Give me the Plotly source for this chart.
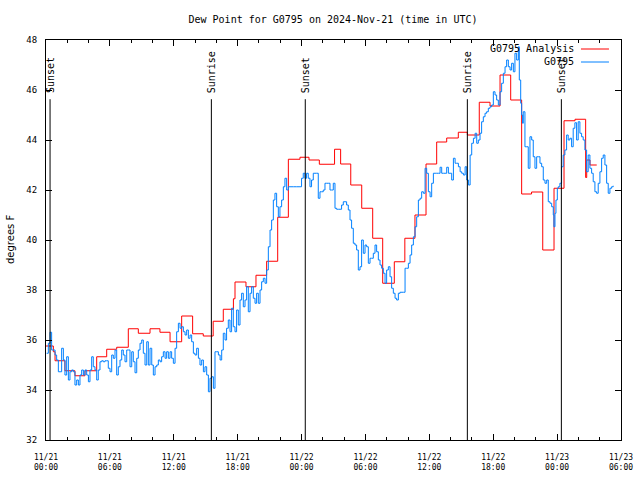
import plotly.graph_objects as go
import pandas as pd

BASE = pd.Timestamp("2024-11-21 00:00")

# ---- Analysis (red step line): step start (hours after 11/21 00:00 UTC), value (deg F)
analysis_hours = [0.0, 0.69, 0.85, 1.78, 2.72, 3.66, 4.76, 5.7, 6.64, 7.73, 8.67, 9.77, 10.7, 11.65,
                  12.74, 13.77, 14.77, 15.7, 16.65, 17.6, 17.75, 18.78, 19.72, 20.72, 21.76, 22.76,
                  23.85, 24.7, 25.67, 27.1, 27.67, 28.62, 29.65, 30.68, 31.62, 32.71, 33.7, 34.65,
                  35.69, 36.69, 37.63, 38.72, 39.57, 40.69, 41.7, 42.64, 43.64, 44.67, 45.6, 46.65,
                  47.71, 48.65, 49.68, 50.68, 50.78, 51.09, 51.72]
analysis_values = [35.76, 35.53, 35.17, 34.77, 34.57, 34.77, 35.33, 35.63, 35.71, 36.45, 36.27, 36.45,
                   36.31, 35.93, 36.96, 36.25, 36.16, 36.75, 37.23, 37.65, 38.32, 38.13, 38.59, 39.15,
                   40.91, 43.23, 43.31, 43.2, 43.03, 43.63, 43.04, 42.2, 41.27, 40.07, 38.27, 39.13,
                   40.07, 41.0, 43.04, 43.92, 44.08, 44.31, 44.2, 45.51, 45.36, 46.6, 45.6, 41.84,
                   41.92, 39.6, 42.07, 44.77, 44.83, 42.5, 43.2, 43.0, 43.0]

# ---- Station observations (blue)
obs_hours = [0.06, 0.22, 0.38, 0.53, 0.69, 0.85, 1.0, 1.16, 1.32, 1.47, 1.63, 1.78, 1.94, 2.1, 2.25,
             2.41, 2.57, 2.72, 2.88, 3.04, 3.19, 3.35, 3.51, 3.66, 3.82, 3.98, 4.13, 4.29, 4.44, 4.6,
             4.76, 4.91, 5.07, 5.23, 5.38, 5.54, 5.7, 5.85, 6.01, 6.17, 6.32, 6.48, 6.64, 6.79, 6.95,
             7.11, 7.26, 7.42, 7.58, 7.73, 7.89, 8.05, 8.2, 8.36, 8.52, 8.67, 8.83, 8.99, 9.14, 9.3,
             9.46, 9.61, 9.77, 9.93, 10.08, 10.24, 10.4, 10.55, 10.71, 10.86, 11.02, 11.18, 11.33,
             11.49, 11.65, 11.8, 11.96, 12.12, 12.27, 12.43, 12.59, 12.74, 12.9, 13.06, 13.21, 13.37,
             13.53, 13.68, 13.84, 13.99, 14.15, 14.31, 14.46, 14.62, 14.78, 14.93, 15.09, 15.25,
             15.4, 15.56, 15.72, 15.87, 16.03, 16.19, 16.35, 16.5,
             16.65, 16.81, 16.96, 17.12, 17.28, 17.43, 17.59, 17.75, 17.9, 18.06, 18.22, 18.37,
             18.53, 18.69, 18.84, 19.0, 19.16, 19.31, 19.47, 19.63, 19.78, 19.94, 20.1, 20.25,
             20.41, 20.57, 20.72, 20.88, 21.04, 21.19, 21.35, 21.5, 21.66, 21.82, 21.97, 22.13,
             22.29, 22.44, 22.6, 22.76, 22.91, 23.23, 23.54, 23.85, 24.0, 24.16, 24.32, 24.47,
             24.63, 24.79, 24.94, 25.1, 25.26, 25.41, 25.57,
             25.73, 25.88, 26.04, 26.2, 26.35, 26.51, 26.67, 26.82, 26.98, 27.14, 27.29, 27.45,
             27.61, 27.76, 27.92, 28.08, 28.23, 28.39, 28.55, 28.7, 28.86, 29.02, 29.17, 29.33,
             29.49, 29.64, 29.8, 29.96, 30.11, 30.27, 30.43, 30.58, 30.74, 30.9, 31.05, 31.21,
             31.37, 31.52, 31.68, 31.84, 31.99, 32.15, 32.31, 32.46, 32.62, 32.78, 32.93, 33.09,
             33.25, 33.56, 33.72, 33.87, 34.03, 34.19, 34.34, 34.5, 34.66, 34.81, 34.97, 35.13,
             35.28, 35.44, 35.6, 35.75, 35.91, 36.07, 36.22, 36.38, 36.54, 36.69, 36.85, 37.01,
             37.16, 37.32, 37.48, 37.63, 37.79, 37.95, 38.1, 38.26, 38.42, 38.57, 38.73, 38.89,
             39.04, 39.2, 39.36, 39.51, 39.67, 39.83, 39.98, 40.14, 40.3, 40.45,
             40.6, 40.76, 40.91, 41.07, 41.23, 41.38, 41.54, 41.7, 41.85, 42.01, 42.17, 42.32,
             42.48, 42.64, 42.79, 42.95, 43.11, 43.26, 43.42, 43.58, 43.73, 43.89, 44.04, 44.2,
             44.36, 44.45, 44.58, 44.67, 44.76, 44.82, 44.98, 45.14, 45.29, 45.45, 45.61, 45.76,
             45.92, 46.08, 46.23, 46.39, 46.55, 46.7, 46.86, 47.02, 47.17, 47.33, 47.49, 47.64,
             47.7, 47.8, 47.89, 48.02, 48.11, 48.26, 48.42, 48.57, 48.73, 48.89, 49.04, 49.2,
             49.36, 49.51, 49.67, 49.83, 49.98, 50.14, 50.3, 50.45, 50.61, 50.77, 50.92, 51.08,
             51.24, 51.39, 51.55, 51.71, 51.86, 52.02, 52.18, 52.33, 52.49, 52.65, 52.8, 52.96,
             53.12, 53.27]
obs_values = [35.47, 35.87, 36.31, 35.6, 35.6, 35.4, 35.2, 34.73, 34.73, 35.67, 35.2, 34.6, 35.33,
              34.4, 34.73, 34.8, 34.73, 34.2, 34.4, 34.2, 34.6, 34.8, 34.6, 34.8, 34.6, 34.33, 34.8,
              35.33, 34.93, 34.8, 34.4, 34.8, 35.13, 35.17, 35.13, 35.17, 35.17, 34.87, 34.73, 35.4,
              35.27, 35.6, 34.6, 34.93, 35.2, 35.6, 35.4, 35.13, 35.6, 35.6, 34.93, 35.53, 35.13,
              34.69, 35.27, 35.6, 35.87, 36.0, 35.47, 35.0, 35.93, 35.0, 35.67, 35.0, 34.6, 34.93,
              35.0, 35.2, 35.13, 35.33, 35.53, 35.27, 35.53, 35.27, 35.53, 35.27, 35.07, 35.67,
              36.33, 36.67, 36.47, 36.53, 36.33, 36.2, 36.4, 36.07, 36.2, 35.93, 35.47, 35.4, 35.67,
              35.27, 35.0, 35.2, 34.73, 34.93, 34.6, 33.93, 34.47, 34.53, 34.07, 35.53, 35.53, 35.4,
              35.2, 35.6,
              36.27, 36.0, 36.47, 36.8, 36.33, 37.27, 36.53, 36.33, 37.2, 36.6, 37.6, 37.87, 37.33,
              37.6, 38.13, 37.13, 37.87, 38.13, 37.67, 37.47, 37.87, 37.47, 38.0, 38.33, 38.47,
              38.27, 38.8, 39.73, 40.4, 40.8, 41.6, 41.87, 41.33, 40.93, 41.33, 41.6, 42.13, 42.47,
              42.0, 42.13, 42.13, 42.13, 42.13, 42.13, 42.47, 42.67, 42.47, 42.67, 42.47, 42.13,
              42.4, 42.67, 42.67, 42.67, 41.67,
              41.93, 41.93, 42.0, 42.27, 42.27, 42.27, 42.0, 42.0, 42.27, 41.27, 41.23, 41.23, 41.23,
              41.4, 41.53, 41.53, 41.4, 41.2, 40.8, 40.47, 39.87, 39.8, 39.6, 38.8, 38.93, 40.0,
              39.47, 39.8, 39.73, 39.07, 39.27, 39.27, 39.47, 39.8, 39.53, 39.2, 39.0, 38.87, 38.67,
              38.27, 38.8, 38.93, 38.53, 38.07, 37.87, 37.67, 37.6, 37.87, 37.91, 37.91, 38.87,
              38.87, 39.07, 39.4, 39.8, 40.13, 40.53, 40.93, 41.6, 41.67, 41.93, 41.87, 42.87, 42.67,
              41.93, 41.73, 42.27, 42.67, 42.67, 42.67, 42.67, 42.91, 42.67, 42.67, 42.67, 42.91,
              42.67, 42.67, 42.4, 43.27, 43.07, 43.07, 42.93, 42.73, 42.67, 42.6, 42.93, 42.4, 42.2,
              43.4, 43.87, 44.07, 44.27, 43.87,
              44.0, 44.27, 44.73, 44.93, 45.07, 45.13, 45.27, 45.33, 45.4, 45.93, 45.8, 45.6, 45.4,
              45.93, 46.27, 46.67, 46.93, 47.2, 46.93, 46.8, 47.07, 46.73, 47.47, 47.2, 47.73, 46.4,
              45.47, 45.0, 44.67, 45.13, 43.73, 43.73, 42.87, 44.13, 44.0, 43.33, 42.87, 43.33,
              43.33, 43.07, 42.93, 42.4, 42.27, 42.4, 41.53, 41.47, 41.33, 41.0, 40.53, 41.07, 41.6,
              42.07, 42.13, 42.27, 42.93, 43.4, 43.6, 44.2, 44.0, 44.07, 43.73, 44.47, 44.69, 44.0,
              44.73, 44.27, 44.13, 44.0, 43.6, 42.73, 43.4, 42.87, 42.67, 42.33, 41.93, 41.87,
              42.27, 42.73, 43.27, 43.4, 43.0, 42.27, 41.87, 42.07, 42.13, 42.17]

# ---- Sun events
event_hours = [0.38, 15.53, 24.35, 39.57, 48.4]
event_labels = ["Sunset", "Sunrise", "Sunset", "Sunrise", "Sunset"]

# ---- Axes
x_tick_hours = [0, 6, 12, 18, 24, 30, 36, 42, 48, 54]
y_ticks = [32, 34, 36, 38, 40, 42, 44, 46, 48]
series_names = ["G0795 Analysis", "G0795"]
series_colors = ["#ff0000", "#0080ff"]
title_text = "Dew Point for G0795 on 2024-Nov-21 (time in UTC)"
y_title = "degrees F"


def to_time(hours):
    return [BASE + pd.Timedelta(hours=h) for h in hours]


MONO = "DejaVu Sans Mono"

fig = go.Figure()
fig.add_trace(go.Scatter(x=to_time(analysis_hours), y=analysis_values, mode="lines",
                         line=dict(color=series_colors[0], width=1, shape="hv"),
                         name=series_names[0], showlegend=False, hoverinfo="skip"))
fig.add_trace(go.Scatter(x=to_time(obs_hours), y=obs_values, mode="lines",
                         line=dict(color=series_colors[1], width=1, shape="hv"),
                         name=series_names[1], showlegend=False, hoverinfo="skip"))

for h, lab in zip(event_hours, event_labels):
    t = BASE + pd.Timedelta(hours=h)
    fig.add_shape(type="line", xref="x", yref="paper", x0=t, x1=t, y0=0, y1=0.852,
                  line=dict(color="black", width=1))
    fig.add_annotation(x=t, y=0.8625, xref="x", yref="paper", text=lab, textangle=-90,
                       showarrow=False, xanchor="center", yanchor="bottom", xshift=1,
                       font=dict(family=MONO, size=10, color="black"))

# manual legend (text right-aligned, sample to the right)
for i, (nm, col) in enumerate(zip(series_names, series_colors)):
    yy = 0.9775 - i * 0.0325
    fig.add_annotation(x=0.921, y=yy, xref="paper", yref="paper", text=nm, showarrow=False,
                       xanchor="right", yanchor="middle", font=dict(family=MONO, size=10, color="black"))
    fig.add_shape(type="line", xref="paper", yref="paper", x0=0.9304, x1=0.9791, y0=yy, y1=yy,
                  line=dict(color=col, width=1))

fig.add_annotation(x=-0.0626, y=0.5, xref="paper", yref="paper", text=y_title, textangle=-90,
                   showarrow=False, xanchor="center", yanchor="middle",
                   font=dict(family="DejaVu Sans", size=10, color="black"))

fig.update_layout(
    width=640, height=480,
    margin=dict(l=46, r=19, t=40, b=40),
    paper_bgcolor="white", plot_bgcolor="white",
    title=dict(text=title_text, x=333 / 640, xanchor="center", y=1 - 19 / 480, yanchor="middle",
               font=dict(family=MONO, size=10, color="black")),
    showlegend=False,
    hovermode=False,
)
fig.update_xaxes(
    automargin=False,
    range=[BASE, BASE + pd.Timedelta(hours=54)],
    tickvals=to_time(x_tick_hours), tickformat="%m/%d<br>%H:%M",
    ticks="inside", ticklen=6, tickcolor="black", tickwidth=1,
    minor=dict(dtick=2 * 3600 * 1000, ticks="inside", ticklen=3, tickcolor="black"),
    showline=True, linecolor="black", linewidth=1, mirror="ticks",
    showgrid=False, zeroline=False,
    tickfont=dict(family=MONO, size=8, color="black"), ticklabelstandoff=9,
)
fig.update_yaxes(
    automargin=False,
    range=[32, 48], tickvals=y_ticks,
    ticks="inside", ticklen=6, tickcolor="black", tickwidth=1,
    showline=True, linecolor="black", linewidth=1, mirror="ticks",
    showgrid=False, zeroline=False,
    tickfont=dict(family=MONO, size=9, color="black"), ticklabelstandoff=6,
)

# remove the page's default body margin so the 640x480 figure sits at the window's top-left
fig.write_html("out.html", config={"displayModeBar": False},
               post_script="document.body.style.margin='0';")
